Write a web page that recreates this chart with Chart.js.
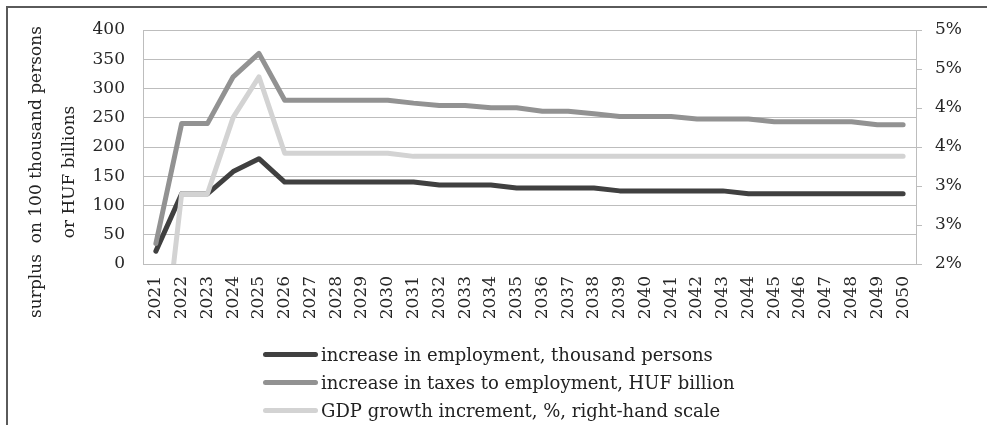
<!DOCTYPE html>
<html>
<head>
<meta charset="utf-8">
<script src="https://cdn.jsdelivr.net/npm/chart.js@4.4.1/dist/chart.umd.min.js"></script>
<style>
  html, body { margin: 0; padding: 0; background: #fff; overflow: hidden; }
  #wrap { position: relative; width: 987px; height: 425px; }
  #chart { position: absolute; left: 0; top: 0; }
  #frame {
    position: absolute; left: 6px; top: 6px; width: 1100px; height: 600px;
    border-top: 2px solid #5a5a5a; border-left: 2px solid #5a5a5a;
    pointer-events: none;
  }
  #legend {
    position: absolute; left: 263px; top: 340px;
    font-family: "DejaVu Serif", serif; font-size: 18px; color: #222;
  }
  #legend .row { display: flex; align-items: center; height: 28px; white-space: nowrap; }
  #legend .swatch { width: 55px; height: 5px; border-radius: 3px; margin-right: 3px; }
</style>
</head>
<body>
<div id="wrap">
  <canvas id="chart" width="987" height="425"></canvas>
  <div id="frame"></div>
  <div id="legend"></div>
</div>
<script>
const years = ['2021','2022','2023','2024','2025','2026','2027','2028','2029','2030',
               '2031','2032','2033','2034','2035','2036','2037','2038','2039','2040',
               '2041','2042','2043','2044','2045','2046','2047','2048','2049','2050'];

// thousand persons
const employment = [22, 120, 120, 158, 180, 140, 140, 140, 140, 140,
                    140, 135, 135, 135, 130, 130, 130, 130, 125, 125,
                    125, 125, 125, 120, 120, 120, 120, 120, 120, 120];

// HUF billion
const taxes = [35, 240, 240, 320, 360, 280, 280, 280, 280, 280,
               275, 271, 271, 267, 267, 261, 261, 257, 252, 252,
               252, 248, 248, 248, 243, 243, 243, 243, 238, 238];

// %, right-hand scale
const gdpGrowth = [0, 2.9, 2.9, 3.88, 4.4, 3.42, 3.42, 3.42, 3.42, 3.42,
                   3.38, 3.38, 3.38, 3.38, 3.38, 3.38, 3.38, 3.38, 3.38, 3.38,
                   3.38, 3.38, 3.38, 3.38, 3.38, 3.38, 3.38, 3.38, 3.38, 3.38];

const rightTickLabels = ['2%', '3%', '3%', '4%', '4%', '5%', '5%'];

const seriesNames = [
  'increase in employment, thousand persons',
  'increase in taxes to employment, HUF billion',
  'GDP growth increment, %, right-hand scale'
];

const leftTitle = ['surplus  on 100 thousand persons', 'or HUF billions'];

const gridGrey = '#bdbdbd';

Chart.defaults.font.family = '"DejaVu Serif", serif';
Chart.defaults.font.size = 17;
Chart.defaults.color = '#262626';

// rotated two-line caption for the left axis
const axisCaption = {
  id: 'axisCaption',
  afterDraw(chart) {
    const ctx = chart.ctx;
    ctx.save();
    ctx.font = '17px "DejaVu Serif", serif';
    ctx.fillStyle = '#222';
    ctx.textAlign = 'center';
    ctx.textBaseline = 'middle';
    leftTitle.forEach((line, i) => {
      ctx.save();
      ctx.translate(37 + i * 33, 172);
      ctx.rotate(-Math.PI / 2);
      ctx.fillText(line, 0, 0);
      ctx.restore();
    });
    ctx.restore();
  }
};

function lineStyle(color, order) {
  return {
    borderColor: color,
    backgroundColor: color,
    borderWidth: 5,
    borderCapStyle: 'round',
    borderJoinStyle: 'round',
    pointRadius: 0,
    tension: 0,
    fill: false,
    order: order
  };
}

const chart = new Chart(document.getElementById('chart').getContext('2d'), {
  type: 'line',
  data: {
    labels: years,
    datasets: [
      Object.assign({ label: seriesNames[0], data: employment, yAxisID: 'y' }, lineStyle('#404040', 3)),
      Object.assign({ label: seriesNames[1], data: taxes, yAxisID: 'y' }, lineStyle('#929292', 2)),
      Object.assign({ label: seriesNames[2], data: gdpGrowth, yAxisID: 'y1', clip: 0 }, lineStyle('#d3d3d3', 1))
    ]
  },
  options: {
    responsive: false,
    animation: false,
    layout: { padding: { top: 30, left: 0, right: 0, bottom: 0 } },
    plugins: {
      legend: { display: false },
      tooltip: { enabled: false }
    },
    scales: {
      x: {
        type: 'category',
        offset: true,
        grid: { drawOnChartArea: false, drawTicks: false },
        border: { color: gridGrey, width: 1 },
        ticks: { minRotation: 90, maxRotation: 90, padding: 12, autoSkip: false },
        afterFit(scale) { scale.height = 161; }
      },
      y: {
        position: 'left',
        min: 0,
        max: 400,
        ticks: { stepSize: 50, padding: 18 },
        grid: { color: gridGrey, drawTicks: false },
        border: { color: gridGrey, width: 1 },
        afterFit(scale) { scale.width = 143; }
      },
      y1: {
        position: 'right',
        min: 2,
        max: 5,
        ticks: {
          stepSize: 0.5,
          padding: 13,
          callback: (value, index) => rightTickLabels[index]
        },
        grid: { drawOnChartArea: false, color: gridGrey, tickLength: 6 },
        border: { color: gridGrey, width: 1 },
        afterFit(scale) { scale.width = 71; }
      }
    }
  },
  plugins: [axisCaption]
});

// legend stacked one entry per row below the axis labels
const legendBox = document.getElementById('legend');
chart.data.datasets.forEach(ds => {
  const row = document.createElement('div');
  row.className = 'row';
  const swatch = document.createElement('span');
  swatch.className = 'swatch';
  swatch.style.background = ds.borderColor;
  const text = document.createElement('span');
  text.textContent = ds.label;
  row.appendChild(swatch);
  row.appendChild(text);
  legendBox.appendChild(row);
});
</script>
</body>
</html>
